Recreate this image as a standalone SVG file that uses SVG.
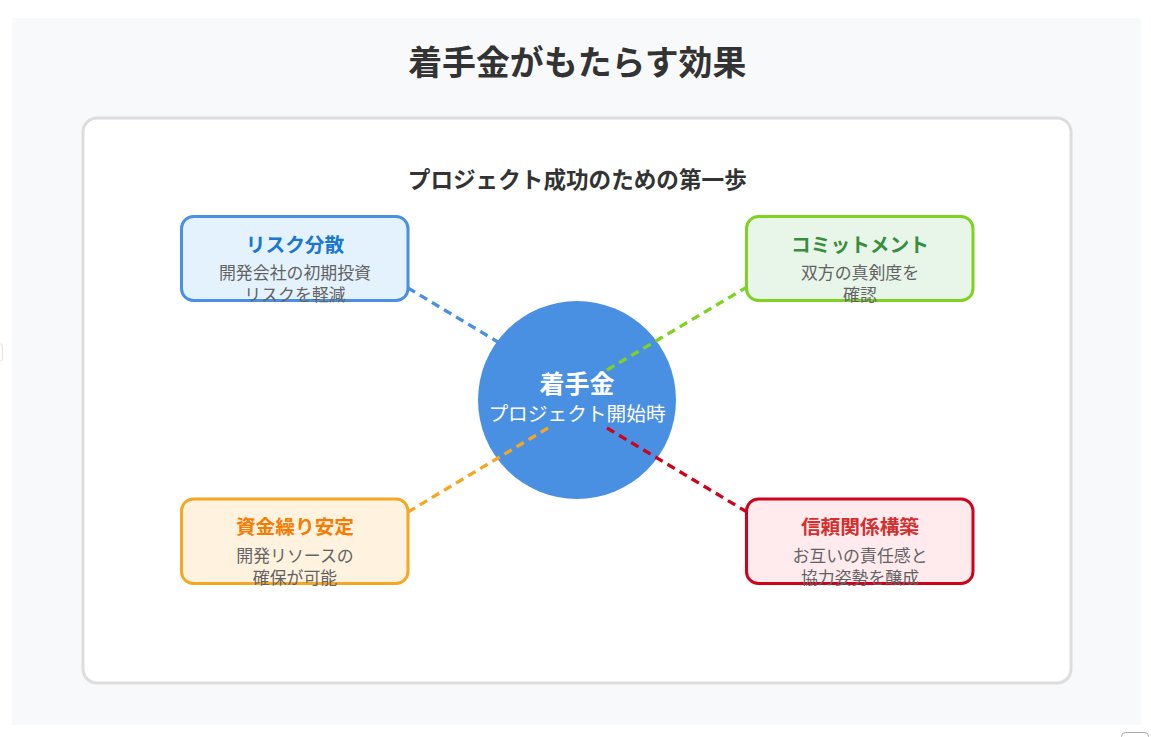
<svg xmlns="http://www.w3.org/2000/svg" width="1151" height="737" viewBox="0 0 1151 737">
<style>
text{font-family:"Noto Sans CJK JP","Noto Sans",sans-serif;text-anchor:middle}
.box{stroke-width:3}
.t{font-size:19.7px;font-weight:700}
.d{font-size:16.9px;fill:#636363}
.c{fill:none;stroke-width:3.300;stroke-dasharray:8.500 5.600}
</style>
<rect width="1151" height="737" fill="#fff"/>
<rect x="12" y="18" width="1129.500" height="707" fill="#f8f9fa"/>
<rect x="-8" y="344" width="10.500" height="17" rx="2" fill="#fff" stroke="#e6e4d8"/>
<rect x="1121.500" y="732.500" width="27" height="12" rx="4" fill="#fff" stroke="#a9a9b5"/>
<text x="577.300" y="75" font-size="33.900" font-weight="700" fill="#333">着手金がもたらす効果</text>
<rect x="83" y="118" width="988" height="565" rx="14" fill="#fff" stroke="#ddd" stroke-width="3"/>
<text x="577.300" y="188" font-size="22.600" font-weight="700" fill="#333">プロジェクト成功のための第一歩</text>
<g id="center"><circle cx="577" cy="400" r="99" fill="#4a90e2"/>
<text x="577" y="393" font-size="25" font-weight="700" fill="#fff">着手金</text>
<text x="577" y="421" font-size="19.700" fill="#fff">プロジェクト開始時</text></g>
<g id="connectors">
<line class="c" x1="548" y1="372" x2="408" y2="288" stroke="#4a90e2"/>
<line class="c" x1="607" y1="370" x2="747" y2="287" stroke="#7ed321"/>
<line class="c" x1="548" y1="428" x2="408" y2="512" stroke="#f5a623"/>
<line class="c" x1="607" y1="428" x2="747" y2="512" stroke="#d0021b"/>
</g>
<g id="risk"><rect class="box" x="181.500" y="216.500" width="226.500" height="84" rx="12" fill="#e3f2fd" stroke="#4a90e2"/>
<text class="t" x="295" y="252" fill="#1976d2">リスク分散</text>
<text class="d" x="295" y="279">開発会社の初期投資</text>
<text class="d" x="295" y="301">リスクを軽減</text></g>
<g id="commit"><rect class="box" x="746.500" y="216.500" width="226.500" height="84" rx="12" fill="#e8f5e9" stroke="#7ed321"/>
<text class="t" x="860" y="252" fill="#388e3c">コミットメント</text>
<text class="d" x="860" y="279">双方の真剣度を</text>
<text class="d" x="860" y="301">確認</text></g>
<g id="funds"><rect class="box" x="181.500" y="499" width="226.500" height="84.500" rx="12" fill="#fff3e0" stroke="#f5a623"/>
<text class="t" x="295" y="534" fill="#f57c00">資金繰り安定</text>
<text class="d" x="295" y="562">開発リソースの</text>
<text class="d" x="295" y="584">確保が可能</text></g>
<g id="trust"><rect class="box" x="746.500" y="499" width="226.500" height="84.500" rx="12" fill="#ffebee" stroke="#d0021b"/>
<text class="t" x="860" y="534" fill="#d32f2f">信頼関係構築</text>
<text class="d" x="860" y="562">お互いの責任感と</text>
<text class="d" x="860" y="584">協力姿勢を醸成</text></g>
</svg>
